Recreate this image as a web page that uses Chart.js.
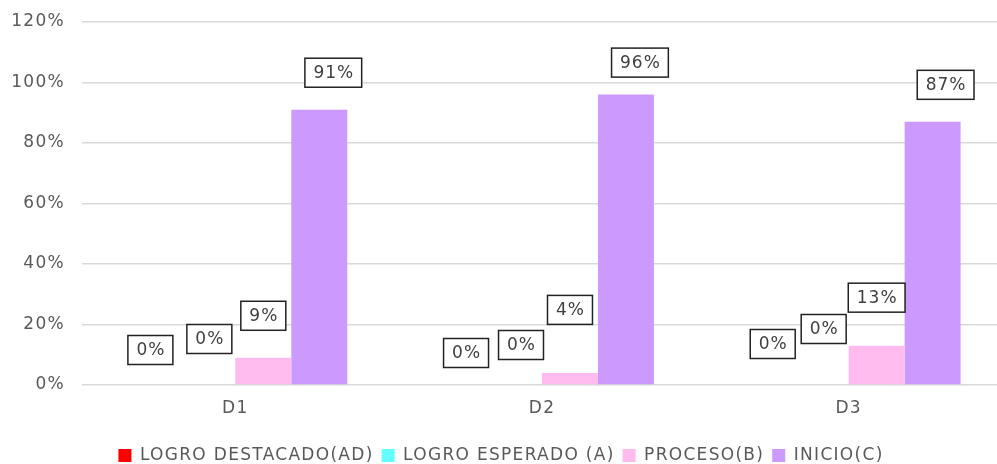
<!DOCTYPE html>
<html>
<head>
<meta charset="utf-8">
<script src="https://cdn.jsdelivr.net/npm/chart.js@4.4.0/dist/chart.umd.min.js"></script>
<style>
  html, body { margin: 0; padding: 0; background: #fff; overflow: hidden; }
  #wrap { position: relative; width: 1002px; height: 464px; }
</style>
</head>
<body>
<div id="wrap"><canvas id="chart"></canvas></div>
<script>
const categories = ['D1', 'D2', 'D3'];
const seriesNames = ['LOGRO DESTACADO(AD)', 'LOGRO ESPERADO (A)', 'PROCESO(B)', 'INICIO(C)'];
const logroDestacado = [0, 0, 0];
const logroEsperado = [0, 0, 0];
const proceso = [9, 4, 13];
const inicio = [91, 96, 87];
const yTicks = [0, 20, 40, 60, 80, 100, 120];

const seriesColors = ['#ff0000', '#66ffff', '#ffbbee', '#cc99ff'];

// hand placed label boxes (dx, dy from the bar top), one row per series
const labelNudge = [
  [[-1, -35], [8, -32], [8, -41]],
  [[2, -46], [7, -40], [3, -56]],
  [[0, -42], [0, -63], [0, -48]],
  [[14, -37], [14, -32], [13, -37]]
];

const FONT = { family: '"DejaVu Sans", Verdana, sans-serif', size: 17 };
const TEXT = '#595959';
const SPACING = '1.3px';

const spacing = {
  id: 'spacing',
  beforeUpdate(chart) { chart.ctx.letterSpacing = SPACING; },
  beforeDraw(chart) { chart.ctx.letterSpacing = SPACING; }
};

const boxLabels = {
  id: 'boxLabels',
  afterDatasetsDraw(chart) {
    const ctx = chart.ctx;
    ctx.save();
    ctx.letterSpacing = '1px';
    ctx.font = `${FONT.size}px ${FONT.family}`;
    ctx.textAlign = 'center';
    ctx.textBaseline = 'middle';
    chart.data.datasets.forEach((ds, i) => {
      const meta = chart.getDatasetMeta(i);
      meta.data.forEach((bar, j) => {
        const txt = ds.data[j] + '%';
        const [dx, dy] = labelNudge[i][j];
        const cx = bar.x + dx, cy = bar.y + dy;
        const w = ctx.measureText(txt).width + 16;
        const h = 29;
        ctx.fillStyle = '#fff';
        ctx.fillRect(cx - w / 2, cy - h / 2, w, h);
        ctx.lineWidth = 1.5;
        ctx.strokeStyle = '#222';
        ctx.strokeRect(cx - w / 2, cy - h / 2, w, h);
        ctx.fillStyle = '#404040';
        ctx.fillText(txt, cx + 0.5, cy + 1);
      });
    });
    ctx.restore();
  }
};

const values = [logroDestacado, logroEsperado, proceso, inicio];

new Chart(document.getElementById('chart'), {
  type: 'bar',
  data: {
    labels: categories,
    datasets: values.map((v, i) => ({
      label: seriesNames[i],
      data: v,
      backgroundColor: seriesColors[i],
      borderWidth: 0,
      categoryPercentage: 0.73,
      barPercentage: 1
    }))
  },
  options: {
    responsive: true,
    maintainAspectRatio: false,
    animation: false,
    layout: { padding: { top: 22, left: 0, right: 0, bottom: -10 } },
    plugins: {
      legend: {
        position: 'bottom',
        labels: { boxWidth: 13, boxHeight: 13, padding: 8, color: TEXT, font: FONT }
      },
      tooltip: { enabled: false }
    },
    scales: {
      x: {
        grid: { display: false },
        border: { display: false },
        ticks: { color: TEXT, font: FONT, padding: 5 },
        afterFit: s => { s.height = 54; }
      },
      y: {
        min: 0,
        max: 120,
        afterBuildTicks: s => { s.ticks = yTicks.map(v => ({ value: v })); },
        ticks: { color: TEXT, font: FONT, padding: 17, callback: v => v + '%' },
        grid: { color: '#d9d9d9', lineWidth: 1.5, drawTicks: false },
        border: { display: false },
        afterFit: s => { s.width = 82; s.paddingTop = 0; s.paddingBottom = 0; }
      }
    }
  },
  plugins: [spacing, boxLabels]
});
</script>
</body>
</html>
